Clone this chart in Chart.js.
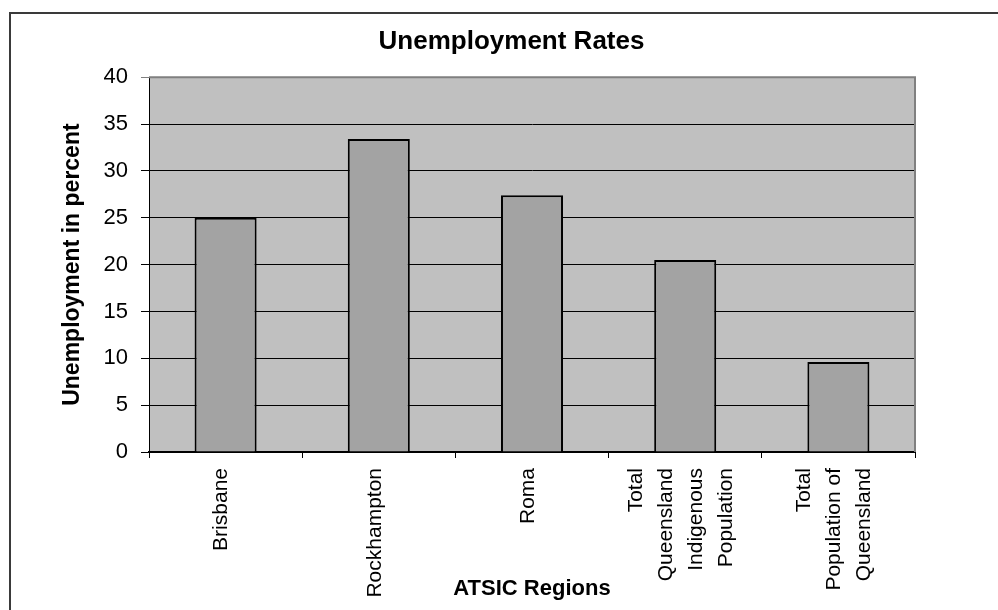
<!DOCTYPE html>
<html>
<head>
<meta charset="utf-8">
<script src="https://cdn.jsdelivr.net/npm/chart.js@4"></script>
<style>
  body { margin: 0; background: #fff; overflow: hidden; }
  #frame { position: absolute; left: 9px; top: 12px; width: 2000px; height: 2000px;
           border-top: 2px solid #3a3a3a; border-left: 2px solid #3a3a3a; }
  #myChart { position: absolute; left: 0; top: 0; }
</style>
</head>
<body>
<div id="frame"></div>
<canvas id="myChart" width="998" height="610"></canvas>
<script>
const regions = [
  ['Brisbane'],
  ['Rockhampton'],
  ['Roma'],
  ['Total', 'Queensland', 'Indigenous', 'Population'],
  ['Total', 'Population of', 'Queensland'],
];
const rates = [25.0, 33.4, 27.4, 20.5, 9.6];
const yTicks = [0, 5, 10, 15, 20, 25, 30, 35, 40];

const FONT = '"Liberation Sans", Arial, sans-serif';

// grey plot background + grey frame round the plot area
const plotBackground = {
  id: 'plotBackground',
  beforeDraw(chart) {
    const {ctx, chartArea: a} = chart;
    ctx.save();
    ctx.fillStyle = '#c0c0c0';
    ctx.fillRect(a.left, a.top, a.right - a.left, a.bottom - a.top);
    ctx.restore();
  },
  beforeDatasetsDraw(chart) {
    const {ctx, chartArea: a} = chart;
    ctx.save();
    ctx.strokeStyle = '#808080';
    ctx.lineWidth = 2;
    ctx.beginPath();
    ctx.moveTo(a.left, a.top);
    ctx.lineTo(a.right, a.top);
    ctx.lineTo(a.right, a.bottom);
    ctx.stroke();
    ctx.restore();
  }
};

// multi-line rotated category labels, centred on each tick
const categoryLabels = {
  id: 'categoryLabels',
  afterDraw(chart) {
    const ctx = chart.ctx;
    const xs = chart.scales.x;
    const lh = 30;
    ctx.save();
    ctx.font = '21px ' + FONT;
    ctx.fillStyle = '#000';
    ctx.textAlign = 'right';
    ctx.textBaseline = 'middle';
    regions.forEach((lines, i) => {
      const cx = xs.getPixelForTick(i) - 4;
      lines.forEach((line, j) => {
        ctx.save();
        ctx.translate(cx + (j - (lines.length - 1) / 2) * lh, xs.top + 16);
        ctx.rotate(-Math.PI / 2);
        ctx.fillText(line, 0, 0);
        ctx.restore();
      });
    });
    ctx.restore();
  }
};

new Chart(document.getElementById('myChart'), {
  type: 'bar',
  data: {
    labels: regions.map(r => r.join(' ')),
    datasets: [{
      data: rates,
      backgroundColor: '#a3a3a3',
      borderColor: '#000',
      borderWidth: 2,
      categoryPercentage: 1,
      barPercentage: 0.405,
    }]
  },
  options: {
    responsive: false,
    animation: false,
    events: [],
    layout: { padding: { left: 25, right: 0, top: 0, bottom: 0 } },
    plugins: {
      legend: { display: false },
      tooltip: { enabled: false },
      title: {
        display: true,
        text: 'Unemployment Rates',
        color: '#000',
        font: { family: FONT, size: 26, weight: 'bold' },
        padding: { top: 26, bottom: 20 },
      }
    },
    scales: {
      x: {
        grid: {
          display: true,
          drawOnChartArea: false,
          tickLength: 6,
          color: '#000',
        },
        border: { color: '#000', width: 2 },
        ticks: { display: false },
        title: {
          display: true,
          text: 'ATSIC Regions',
          color: '#000',
          font: { family: FONT, size: 22, weight: 'bold' },
          padding: { top: 0, bottom: 8 },
        },
        afterFit(scale) { scale.height = 158; }
      },
      y: {
        min: 0,
        max: 40,
        afterBuildTicks(scale) { scale.ticks = yTicks.map(v => ({value: v})); },
        grid: {
          color: ctx => (ctx.tick && ctx.tick.value === 40) ? '#808080' : '#000',
          lineWidth: 1,
          tickLength: 8,
        },
        border: { color: '#000', width: 1 },
        ticks: {
          color: '#000',
          padding: 13,
          font: { family: FONT, size: 22 },
        },
        title: {
          display: true,
          text: 'Unemployment in percent',
          color: '#000',
          font: { family: FONT, size: 23, weight: 'bold' },
          padding: { top: 34, bottom: 0 },
        },
        afterFit(scale) { scale.width = 124; }
      },
      // empty right-hand margin
      yRight: {
        position: 'right',
        min: 0,
        max: 40,
        grid: { display: false },
        border: { display: false },
        ticks: { display: false },
        afterFit(scale) { scale.width = 83; }
      }
    }
  },
  plugins: [plotBackground, categoryLabels]
});
</script>
</body>
</html>
